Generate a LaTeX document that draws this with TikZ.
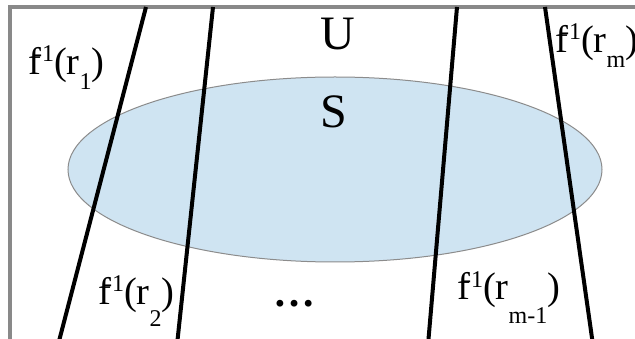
\documentclass[tikz,border=0pt]{standalone}
\usepackage{fontspec}
\setmainfont{Liberation Serif}
\definecolor{framegray}{HTML}{898989}
\definecolor{setfill}{HTML}{CFE4F2}
\definecolor{setedge}{HTML}{8C8C8C}
\newcommand{\finvlabel}[2]{f\kern-7pt\raisebox{13pt}{\fontsize{24}{24}\selectfont -1}(r\raisebox{-#2}{\fontsize{24}{24}\selectfont #1})}
\begin{document}
\begin{tikzpicture}[x=1pt,y=-1pt,
  frame/.style={draw=framegray,line width=4pt},
  setshape/.style={draw=setedge,fill=setfill,line width=1pt},
  cut/.style={draw=black,line width=4pt},
  lbl/.style={anchor=base west,inner sep=0pt,font=\fontsize{38.5}{38.5}\selectfont},
  big/.style={anchor=base,inner sep=0pt,font=\fontsize{48}{48}\selectfont}]
\useasboundingbox (0,0) rectangle (635,339);
\draw[frame] (10,7.5) rectangle (660,360);
\draw[setshape] (335,169.5) ellipse [x radius=267, y radius=92.5];
% preimage lines
\coordinate (a1) at (146,7);
\coordinate (b1) at (58,345);
\coordinate (a2) at (213,7);
\coordinate (b2) at (177,345);
\coordinate (a3) at (457,7);
\coordinate (b3) at (428,345);
\coordinate (a4) at (545,7);
\coordinate (b4) at (593,345);
\draw[cut] (a1) -- (b1);
\draw[cut] (a2) -- (b2);
\draw[cut] (a3) -- (b3);
\draw[cut] (a4) -- (b4);
\node[big] (U) at (338,50) {U};
\node[big] (S) at (334,128) {S};
\node[lbl] (l1) at (28,75) {\finvlabel{1}{15pt}};
\node[lbl] (lm) at (555,53) {\finvlabel{m}{15pt}};
\node[lbl] (l2) at (98,305) {\finvlabel{2}{22pt}};
\node[lbl] (lm1) at (457,300) {\finvlabel{m-1}{24pt}};
\node[anchor=base west,inner sep=0pt,font=\bfseries\fontsize{42}{42}\selectfont] (dots) at (273,307) {…};
\end{tikzpicture}
\end{document}
